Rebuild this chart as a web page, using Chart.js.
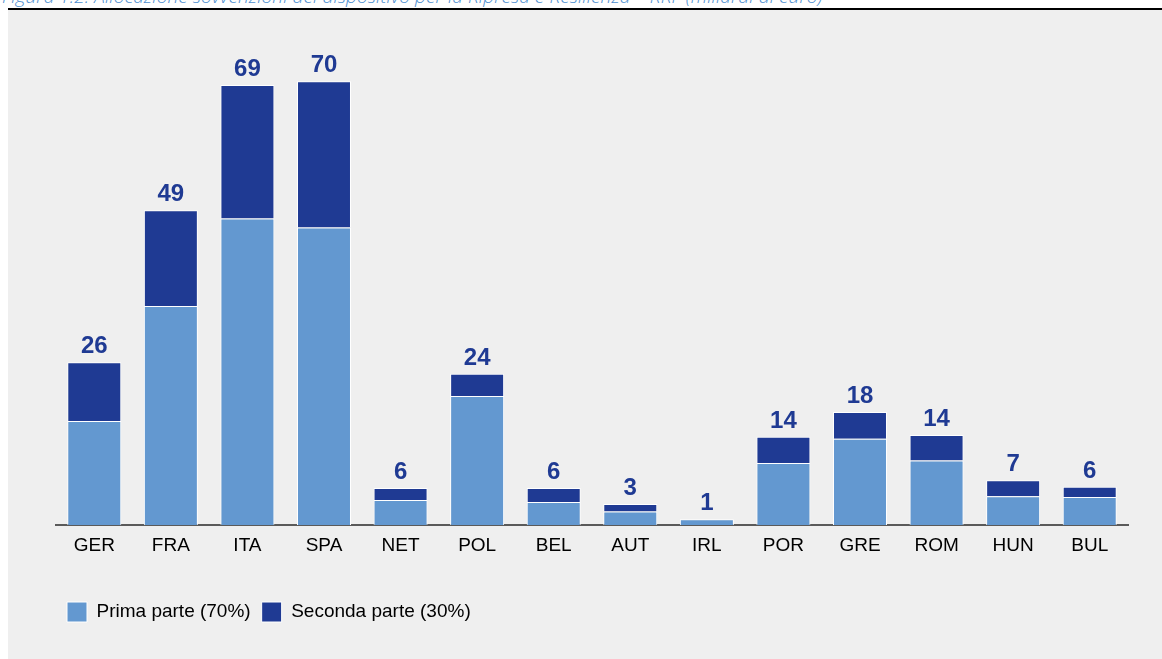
<!DOCTYPE html>
<html lang="it">
<head>
<meta charset="utf-8">
<title>Allocazione sovvenzioni RRF</title>
<script src="https://cdn.jsdelivr.net/npm/chart.js@4/dist/chart.umd.min.js"></script>
<style>
    html, body { margin: 0; padding: 0; background: #fff; overflow: hidden; }
    body { width: 1162px; height: 659px; position: relative; }
    .fig-title {
        position: absolute; left: 2px; top: -13px; white-space: nowrap;
        font-family: "Open Sans", sans-serif; font-style: italic; font-weight: 300;
        font-size: 19px; line-height: 19px; color: #4f8fcf; letter-spacing: 0.1px;
    }
    .rule { position: absolute; left: 8px; top: 8px; width: 1154px; height: 2px; background: #000; }
    .panel { position: absolute; left: 8px; top: 10px; width: 1154px; height: 649px; background: #efefef; }
</style>
</head>
<body>
<div class="fig-title">Figura 1.2: Allocazione sovvenzioni del dispositivo per la Ripresa e Resilienza – RRF (miliardi di euro)</div>
<div class="rule"></div>
<div class="panel"><canvas id="rrfChart" width="1154" height="649"></canvas></div>
<script>
const countries = ['GER', 'FRA', 'ITA', 'SPA', 'NET', 'POL', 'BEL', 'AUT', 'IRL', 'POR', 'GRE', 'ROM', 'HUN', 'BUL'];
// miliardi di euro
const primaParte   = [16.3, 34.3, 48.0, 46.6, 3.9, 20.2, 3.6, 2.1, 0.9, 9.7, 13.5, 10.1, 4.5, 4.4];
const secondaParte = [ 9.2, 15.0, 20.9, 22.9, 1.9,  3.5, 2.2, 1.2, 0.0, 4.1,  4.2,  4.0, 2.5, 1.6];
const totalLabels  = ['26', '49', '69', '70', '6', '24', '6', '3', '1', '14', '18', '14', '7', '6'];

const LIGHT = '#6398d0';
const DARK = '#1f3a93';

// total on top of each stacked bar
const totalsPlugin = {
    id: 'totals',
    afterDatasetsDraw(chart) {
        const ctx = chart.ctx;
        const meta = chart.getDatasetMeta(0);
        const y = chart.scales.y;
        ctx.save();
        ctx.font = 'bold 24px "Liberation Sans", Arial, sans-serif';
        ctx.fillStyle = DARK;
        ctx.textAlign = 'center';
        ctx.textBaseline = 'alphabetic';
        meta.data.forEach((bar, i) => {
            const top = y.getPixelForValue(primaParte[i] + secondaParte[i]);
            ctx.fillText(totalLabels[i], bar.x, top - 9);
        });
        ctx.restore();
    }
};

// fixed legend height so the plot area stays put
const legendHeightPlugin = {
    id: 'legendHeight',
    beforeInit(chart) {
        const fit = chart.legend.fit;
        chart.legend.fit = function () {
            fit.call(this);
            this.height = 48;
        };
    }
};

const ctx = document.getElementById('rrfChart').getContext('2d');
new Chart(ctx, {
    type: 'bar',
    data: {
        labels: countries,
        datasets: [
            {
                label: 'Prima parte (70%)',
                data: primaParte,
                backgroundColor: LIGHT,
                borderColor: '#ffffff',
                borderWidth: 1
            },
            {
                label: 'Seconda parte (30%)',
                data: secondaParte,
                backgroundColor: DARK,
                borderColor: '#ffffff',
                borderWidth: 1
            }
        ]
    },
    options: {
        responsive: false,
        animation: false,
        layout: { padding: { left: 48, right: 34, top: 36, bottom: 20 } },
        datasets: { bar: { categoryPercentage: 1, barPercentage: 0.705 } },
        scales: {
            x: {
                stacked: true,
                grid: { display: false, drawTicks: false },
                border: { display: true, color: '#5a5a5a', width: 2 },
                ticks: {
                    color: '#000',
                    padding: 9,
                    font: { family: '"Liberation Sans", Arial, sans-serif', size: 19 }
                },
                afterFit(scale) { scale.height = 66; }
            },
            y: {
                stacked: true,
                display: false,
                min: 0,
                max: 75
            }
        },
        plugins: {
            legend: {
                position: 'bottom',
                align: 'start',
                labels: {
                    boxWidth: 20,
                    boxHeight: 20,
                    padding: 11,
                    color: '#000',
                    font: { family: '"Liberation Sans", Arial, sans-serif', size: 19 }
                }
            },
            tooltip: { enabled: false }
        }
    },
    plugins: [totalsPlugin, legendHeightPlugin]
});
</script>
</body>
</html>
